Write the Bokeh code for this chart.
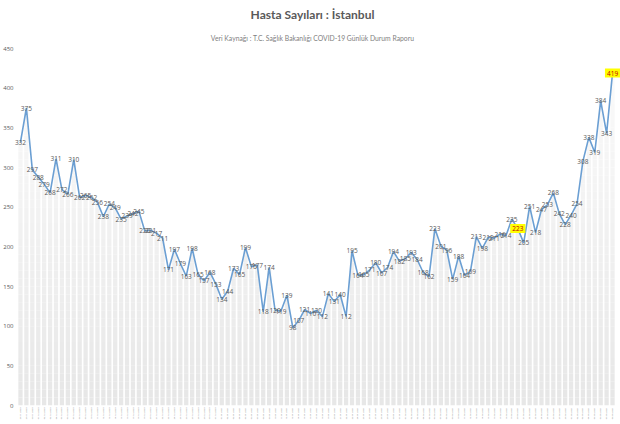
import pandas as pd
from bokeh.plotting import figure
from bokeh.models import Range1d, Label, FixedTicker
from bokeh.core.properties import value
from bokeh.embed import file_html
from bokeh.resources import INLINE

title_text = "Hasta Sayıları : İstanbul"
subtitle_text = "Veri Kaynağı : T.C. Sağlık Bakanlığı COVID-19 Günlük Durum Raporu"

cases = [332, 375, 297, 288, 279, 268, 311, 272, 266, 310,
         262, 265, 262, 256, 238, 254, 249, 235, 239, 242,
         245, 220, 221, 217, 211, 171, 197, 179, 163, 198,
         165, 157, 168, 153, 134, 144, 173, 165, 199, 175,
         177, 118, 174, 120, 119, 139, 98, 107, 121, 116,
         120, 112, 141, 131, 140, 112, 195, 164, 165, 171,
         180, 167, 174, 194, 182, 185, 193, 184, 168, 162,
         223, 201, 196, 159, 188, 164, 169, 213, 198, 212,
         211, 216, 214, 235, 223, 205, 251, 218, 247, 253,
         268, 242, 228, 240, 254, 308, 338, 319, 384, 343,
         419]
highlight_idx = [84, 100]
y_ticks = [0, 50, 100, 150, 200, 250, 300, 350, 400, 450]
dates = [d.strftime("%d.%m.%Y") for d in pd.date_range("2020-11-28", periods=len(cases), freq="D")]
idx = list(range(len(cases)))

# frame spans the full height; axis top (450) sits 48px below the canvas top
frame_h = 405
px_per_unit = (405 - 48) / 450.0
y_top = frame_h / px_per_unit
x_step_px = 5.94
frame_left_px = 11
x_start = -(18 - frame_left_px) / x_step_px
x_end = (len(cases) - 1) + (620 - 612) / x_step_px

p = figure(width=620, height=424, output_backend="svg", toolbar_location=None,
           x_range=Range1d(x_start, x_end), y_range=Range1d(0, y_top),
           min_border_left=0, min_border_right=0, min_border_top=0, min_border_bottom=19)
p.background_fill_color = "white"
p.border_fill_color = "white"
p.outline_line_color = None
p.grid.visible = False

# gradient bars made of bands
band = 10
bx, bb, bt, bc = [], [], [], []
for i, v in zip(idx, cases):
    lvl = 0
    while lvl < v:
        top = min(lvl + band, v)
        g = int(round(231 + (252 - 231) * (lvl / 450.0)))
        bx.append(i); bb.append(lvl); bt.append(top)
        bc.append("#%02x%02x%02x" % (g, g, g))
        lvl += band
p.vbar(x=bx, bottom=bb, top=bt, width=0.72, fill_color=bc, line_color=None)

p.line(x=idx, y=cases, line_color="#6b9fd3", line_width=1.6)

normal = [i for i in idx if i not in highlight_idx]
p.text(x=normal, y=[cases[i] for i in normal],
       text=[str(cases[i]) for i in normal], text_align="center", text_baseline="middle",
       text_font=value("Open Sans"), text_font_size="6.5px", text_color="#595959")
p.text(x=highlight_idx, y=[cases[i] for i in highlight_idx],
       text=[str(cases[i]) for i in highlight_idx], text_align="center", text_baseline="middle",
       text_font=value("Open Sans"), text_font_size="6.5px", text_color="#c00000",
       background_fill_color="#ffff00", padding=2)

p.yaxis.ticker = FixedTicker(ticks=y_ticks)
p.yaxis.axis_line_color = None
p.yaxis.major_tick_line_color = None
p.yaxis.minor_tick_line_color = None
p.yaxis.major_tick_out = 0
p.yaxis.major_label_text_font = "Open Sans"
p.yaxis.major_label_text_font_size = "6px"
p.yaxis.major_label_text_color = "#595959"
p.yaxis.major_label_standoff = 0

p.xaxis.ticker = FixedTicker(ticks=idx)
p.xaxis.major_label_overrides = {i: d for i, d in zip(idx, dates)}
p.xaxis.axis_line_color = None
p.xaxis.major_tick_line_color = None
p.xaxis.minor_tick_line_color = None
p.xaxis.major_tick_out = 0
p.xaxis.major_label_orientation = 1.5708
p.xaxis.major_label_text_font = "Open Sans"
p.xaxis.major_label_text_font_size = "2.3px"
p.xaxis.major_label_text_color = "#7f7f7f"
p.xaxis.major_label_standoff = 2

title_y = (405 - 14) / px_per_unit
sub_y = (405 - 37) / px_per_unit
p.add_layout(Label(x=310 - frame_left_px, y=title_y, x_units="screen", y_units="data", text=title_text,
                   text_align="center", text_baseline="middle", text_font="Lato",
                   text_font_style="bold", text_font_size="12px", text_color="#595959"))
p.add_layout(Label(x=310 - frame_left_px, y=sub_y, x_units="screen", y_units="data", text=subtitle_text,
                   text_align="center", text_baseline="middle", text_font="Lato",
                   text_font_size="6.8px", text_color="#7f7f7f"))

open("out.html", "w").write(file_html(p, INLINE))
